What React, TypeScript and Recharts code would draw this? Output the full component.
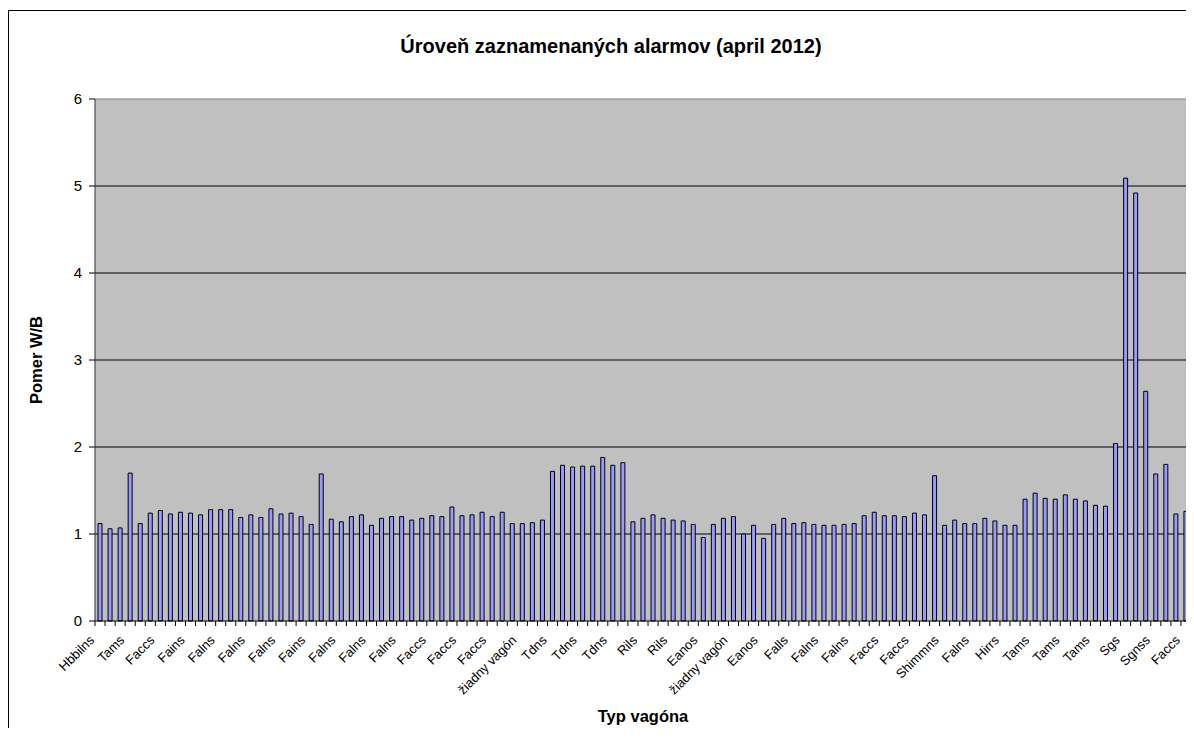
import { Bar, BarChart, CartesianGrid, ReferenceLine, XAxis, YAxis } from "recharts";

const font = '"Liberation Sans", Arial, sans-serif';

const title = "Úroveň zaznamenaných alarmov (april 2012)";
const xTitle = "Typ vagóna";
const yTitle = "Pomer W/B";

// only every third category carries a visible label
const tickLabels = [
  "Hbbilns", "Tams", "Faccs", "Fains", "Falns", "Falns", "Falns", "Fains", "Falns", "Falns",
  "Falns", "Faccs", "Faccs", "Faccs", "žiadny vagón", "Tdns", "Tdns", "Tdns", "Rils", "Rils",
  "Eanos", "žiadny vagón", "Eanos", "Falls", "Falns", "Falns", "Faccs", "Faccs", "Shimmns", "Falns",
  "Hirrs", "Tams", "Tams", "Tams", "Sgs", "Sgnss", "Faccs"
];

const ratios = [
  1.12, 1.06, 1.07, 1.70, 1.12, 1.24, 1.27, 1.23, 1.25, 1.24,
  1.22, 1.28, 1.28, 1.28, 1.19, 1.22, 1.19, 1.29, 1.23, 1.24,
  1.20, 1.11, 1.69, 1.17, 1.14, 1.20, 1.22, 1.10, 1.18, 1.20,
  1.20, 1.16, 1.18, 1.21, 1.20, 1.31, 1.21, 1.22, 1.25, 1.20,
  1.25, 1.12, 1.12, 1.13, 1.16, 1.72, 1.79, 1.77, 1.78, 1.78,
  1.88, 1.79, 1.82, 1.14, 1.18, 1.22, 1.18, 1.16, 1.15, 1.11,
  0.96, 1.11, 1.18, 1.20, 1.00, 1.10, 0.95, 1.11, 1.18, 1.12,
  1.13, 1.11, 1.10, 1.10, 1.11, 1.12, 1.21, 1.25, 1.21, 1.21,
  1.20, 1.24, 1.22, 1.67, 1.10, 1.16, 1.12, 1.12, 1.18, 1.15,
  1.10, 1.10, 1.40, 1.47, 1.41, 1.40, 1.45, 1.40, 1.38, 1.33,
  1.32, 2.04, 5.09, 4.92, 2.64, 1.69, 1.80, 1.23, 1.26
];

const yTicks = [0, 1, 2, 3, 4, 5, 6];

const W = 1185;
const H = 719;
const plotLeft = 86;
const plotRight = 1182;
const band = (plotRight - plotLeft) / ratios.length;

type TickProps = { x: number; y: number; index: number };

function CategoryTick({ x, y, index }: TickProps) {
  const label = index % 3 === 0 ? tickLabels[index / 3] : null;
  const last = index === ratios.length - 1;
  const tx = x - 5;
  const ty = y + 20;
  return (
    <g>
      <line x1={x - band / 2} x2={x - band / 2} y1={y} y2={y + 5} stroke="#000" />
      {last && <line x1={x + band / 2} x2={x + band / 2} y1={y} y2={y + 5} stroke="#000" />}
      {label && (
        <text
          x={tx}
          y={ty}
          transform={`rotate(-45, ${tx}, ${ty})`}
          textAnchor="end"
          fontSize={13}
          fontFamily={font}
          fill="#000"
        >
          {label}
        </text>
      )}
    </g>
  );
}

export default function App() {
  const data = ratios.map((value, idx) => ({ idx, value }));

  return (
    <div
      style={{
        position: "relative",
        top: 2,
        width: W,
        height: H,
        borderLeft: "1px solid #000",
        borderTop: "1px solid #000"
      }}
    >
      <BarChart width={W} height={H} data={data} margin={{ top: 88, right: 0, bottom: 9, left: 0 }}>
        <CartesianGrid fill="#C0C0C0" stroke="#000" vertical={false} horizontalValues={[1, 2, 3, 4, 5]} />
        <XAxis
          dataKey="idx"
          interval={0}
          tickLine={false}
          tickSize={0}
          tickMargin={0}
          tick={(props: TickProps) => <CategoryTick {...props} />}
          height={100}
          axisLine={{ stroke: "#000" }}
        />
        <YAxis
          domain={[0, 6]}
          ticks={yTicks}
          width={86}
          tickSize={6}
          tickMargin={7}
          tick={{ fontSize: 15, fill: "#000", fontFamily: font }}
          tickLine={{ stroke: "#000" }}
          axisLine={{ stroke: "#333" }}
        />
        <YAxis yAxisId="frame" orientation="right" width={3} tick={false} tickLine={false} axisLine={{ stroke: "#808080" }} />
        <ReferenceLine y={6} stroke="#808080" />
        <Bar dataKey="value" fill="#9999FF" stroke="#000" strokeWidth={1} barSize={4} isAnimationActive={false} />
      </BarChart>
      <svg width={W} height={H} style={{ position: "absolute", left: 0, top: 0, pointerEvents: "none" }}>
        <text x={602} y={41.7} textAnchor="middle" fontSize={20} fontWeight="bold" fontFamily={font}>
          {title}
        </text>
        <text x={634} y={711} textAnchor="middle" fontSize={16.5} fontWeight="bold" fontFamily={font}>
          {xTitle}
        </text>
        <text
          x={32.7}
          y={349}
          transform="rotate(-90, 32.7, 349)"
          textAnchor="middle"
          fontSize={16.5}
          fontWeight="bold"
          fontFamily={font}
        >
          {yTitle}
        </text>
      </svg>
    </div>
  );
}
